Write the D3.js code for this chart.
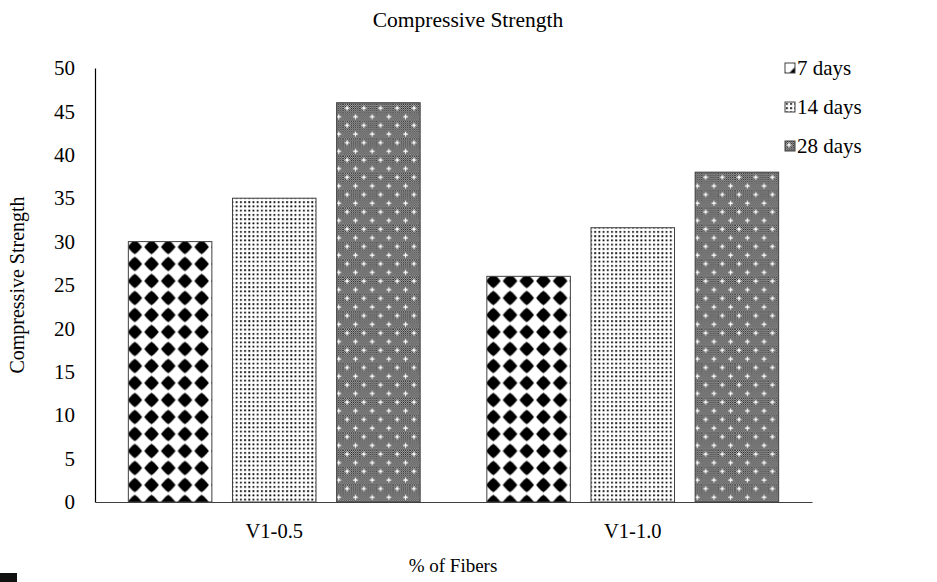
<!DOCTYPE html>
<html>
<head>
<meta charset="utf-8">
<script src="https://cdn.jsdelivr.net/npm/d3@7"></script>
<style>
  html, body { margin: 0; padding: 0; background: #fff; }
  svg { display: block; }
  text { font-family: "Liberation Serif", "Times New Roman", serif; fill: #000; }
</style>
</head>
<body>
<svg id="chart" width="937" height="582"></svg>
<script>
// ---- data ----
const categories = ["V1-0.5", "V1-1.0"];
const seriesNames = ["7 days", "14 days", "28 days"];
const days7 = [30, 26];
const days14 = [35, 31.6];
const days28 = [46, 38];
const yTicks = [0, 5, 10, 15, 20, 25, 30, 35, 40, 45, 50];
const chartTitle = "Compressive Strength";
const xTitle = "% of Fibers";
const yTitle = "Compressive Strength";

const seriesValues = [days7, days14, days28];

const svg = d3.select("#chart");
const m = { left: 95, right: 812, top: 68, bottom: 502 };

const x0 = d3.scaleBand().domain(categories).range([m.left, m.right])
  .paddingInner(0.186).paddingOuter(0.093);
const x1 = d3.scaleBand().domain(seriesNames).range([0, x0.bandwidth()])
  .paddingInner(0.198).paddingOuter(0);
const y = d3.scaleLinear().domain([0, 50]).range([m.bottom, m.top]);

const defs = svg.append("defs");

// fine checker used for 28 days background
const chk = defs.append("pattern").attr("id", "chk")
  .attr("patternUnits", "userSpaceOnUse").attr("width", 2).attr("height", 2);
chk.append("rect").attr("width", 2).attr("height", 2).attr("fill", "#d6d6d6");
chk.append("rect").attr("width", 1).attr("height", 1).attr("fill", "#111");
chk.append("rect").attr("x", 1).attr("y", 1).attr("width", 1).attr("height", 1).attr("fill", "#111");

const diamondPath = "M0,-7.3 L2.6,-5.2 L5.2,-2.6 L7.3,0 L5.2,2.6 L2.6,5.2 L0,7.3 L-2.6,5.2 L-5.2,2.6 L-7.3,0 L-5.2,-2.6 L-2.6,-5.2 Z";

function makePattern(id, si, ox, oy) {
  if (si === 0) {
    const p = defs.append("pattern").attr("id", id)
      .attr("patternUnits", "userSpaceOnUse").attr("width", 16.7).attr("height", 17)
      .attr("x", ox - 8.35).attr("y", oy - 8.5);
    p.append("rect").attr("width", 16.7).attr("height", 17).attr("fill", "#fff");
    p.append("path").attr("d", diamondPath).attr("transform", "translate(8.35,8.5)").attr("fill", "#000");
  } else if (si === 1) {
    const p = defs.append("pattern").attr("id", id)
      .attr("patternUnits", "userSpaceOnUse").attr("width", 4.2).attr("height", 4.25)
      .attr("x", ox).attr("y", oy);
    p.append("rect").attr("width", 4.2).attr("height", 4.25).attr("fill", "#fff");
    p.append("rect").attr("x", 1).attr("y", 1).attr("width", 1.8).attr("height", 1.8).attr("fill", "#000");
  } else {
    const p = defs.append("pattern").attr("id", id)
      .attr("patternUnits", "userSpaceOnUse").attr("width", 16.7).attr("height", 17.3)
      .attr("x", ox).attr("y", oy);
    p.append("rect").attr("width", 16.7).attr("height", 17.3).attr("fill", "url(#chk)");
    [[4, 4], [12.35, 12.65]].forEach(([cx, cy]) => {
      p.append("rect").attr("x", cx - 1).attr("y", cy - 1).attr("width", 2).attr("height", 2).attr("fill", "#fff");
      p.append("rect").attr("x", cx - 2.5).attr("y", cy - 0.5).attr("width", 5).attr("height", 1).attr("fill", "#fff");
      p.append("rect").attr("x", cx - 0.5).attr("y", cy - 2.5).attr("width", 1).attr("height", 5).attr("fill", "#fff");
    });
  }
}

// title
svg.append("text").attr("x", 468).attr("y", 27).attr("text-anchor", "middle")
  .attr("font-size", 21.5).text(chartTitle);

// bars
const barData = [];
categories.forEach((c, ci) => {
  seriesNames.forEach((s, si) => {
    barData.push({ c, ci, s, si, v: seriesValues[si][ci] });
  });
});

barData.forEach(d => {
  const bx = x0(d.c) + x1(d.s);
  const id = "pat-" + d.ci + "-" + d.si;
  makePattern(id, d.si, bx + 6.5, m.bottom);
  d.id = id; d.bx = bx;
});

svg.append("g").selectAll("rect").data(barData).join("rect")
  .attr("x", d => d.bx)
  .attr("y", d => y(d.v))
  .attr("width", x1.bandwidth())
  .attr("height", d => y(0) - y(d.v))
  .attr("fill", d => "url(#" + d.id + ")")
  .attr("stroke", "#404040")
  .attr("stroke-width", 1);

// y axis
const yAxis = svg.append("g").attr("transform", `translate(${m.left},0)`)
  .call(d3.axisLeft(y).tickValues(yTicks).tickSize(0).tickPadding(20).tickFormat(d3.format("d")));
yAxis.select(".domain").attr("stroke", "#000").attr("stroke-width", 1.2);
yAxis.selectAll("text").attr("font-size", 21).attr("font-family", "Liberation Serif");

// x axis
const xAxis = svg.append("g").attr("transform", `translate(0,${m.bottom})`)
  .call(d3.axisBottom(x0).tickSize(0).tickPadding(21));
xAxis.select(".domain").attr("stroke", "#404040").attr("stroke-width", 1.2);
xAxis.selectAll("text").attr("font-size", 20.5).attr("font-family", "Liberation Serif");

// axis titles
svg.append("text").attr("x", 453).attr("y", 572).attr("text-anchor", "middle")
  .attr("font-size", 19).text(xTitle);
svg.append("text").attr("transform", "translate(24,285) rotate(-90)")
  .attr("text-anchor", "middle").attr("font-size", 20).text(yTitle);

// legend
const legendY = [68, 107, 146];
const lg = svg.append("g");
seriesNames.forEach((s, si) => {
  const lx = 785, ly = legendY[si];
  const id = "leg-" + si;
  if (si === 0) makePattern(id, si, lx + 11, ly + 6);
  else makePattern(id, si, lx, ly - 5);
  lg.append("rect").attr("x", lx).attr("y", ly - 5).attr("width", 10).attr("height", 10)
    .attr("fill", "url(#" + id + ")").attr("stroke", "#404040").attr("stroke-width", 1);
  lg.append("text").attr("x", lx + 12).attr("y", ly + 7).attr("font-size", 21).text(s);
});

// small corner mark
svg.append("rect").attr("x", 0).attr("y", 573).attr("width", 17).attr("height", 9).attr("fill", "#111");
</script>
</body>
</html>
